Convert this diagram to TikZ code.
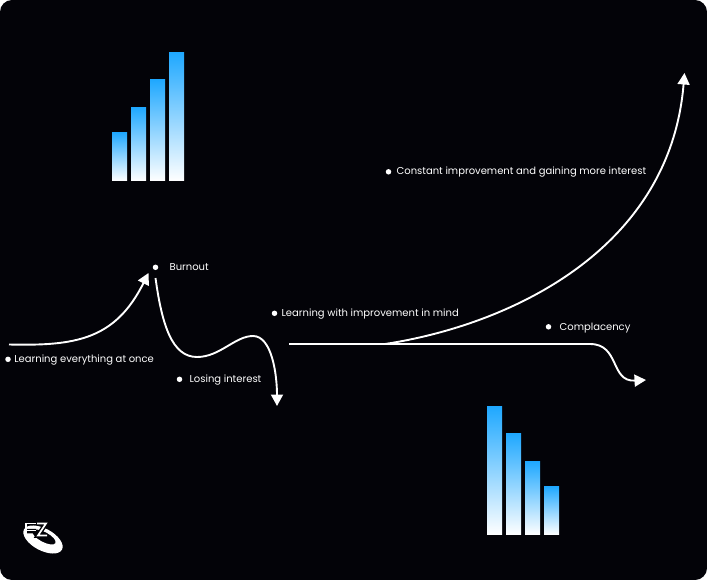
\documentclass[tikz,border=0pt]{standalone}
\usepackage{fontspec}
\usepackage[]{xcolor}
\setmainfont{Poppins}
\usetikzlibrary{positioning,arrows.meta}
\definecolor{panelbg}{HTML}{030308}
\definecolor{barblue}{HTML}{1FA8FF}
\begin{document}
\begin{tikzpicture}[
            x=1pt, y=-1pt,
            dot/.style={circle, fill=white, inner sep=0pt, minimum size=5.5pt},
            label/.style={text=white, inner sep=0pt, text height=7.5pt, text depth=2.5pt, yshift=-0.7pt, font=\fontsize{10}{12}\selectfont},
            bar/.style={top color=barblue, bottom color=white, draw=none},
            arrow/.style={-{Triangle[length=11.5pt,width=12pt]}, white, line width=1.9pt},
            line/.style={white, line width=1.9pt}
        ]
            \useasboundingbox (0,0) rectangle (707,580);
            \fill[white] (0,0) rectangle (707,580);
            \fill[panelbg, rounded corners=12pt] (0,0) rectangle (707,580);

            % rising bars
            \foreach \xa/\ya in {112/132.5, 131/107.5, 150/79.5, 169/52.5}
                \shade[bar] (\xa,\ya) rectangle (\xa+15,181);
            % falling bars
            \foreach \xa/\ya in {487/406.5, 506/433.5, 525/461.5, 544/486.5}
                \shade[bar] (\xa,\ya) rectangle (\xa+15,534.7);

            \node[dot] (D1) at (8,359.3) {};
            \node[dot] (D2) at (155.5,267.3) {};
            \node[dot] (D3) at (179.5,379.3) {};
            \node[dot] (D4) at (274.5,313.3) {};
            \node[dot] (D5) at (388.5,171.8) {};
            \node[dot] (D6) at (548.5,326.8) {};
            \node[label, right=3.2pt of D1] (L1) {Learning everything at once};
            \node[label, right=11pt of D2] (L2) {Burnout};
            \node[label, right=7pt of D3] (L3) {Losing interest};
            \node[label, right=4pt of D4] (L4) {Learning with improvement in mind};
            \node[label, right=5pt of D5] (L5) {Constant improvement and gaining more interest};
            \node[label, right=8pt of D6] (L6) {Complacency};

            \coordinate (A1) at (9,344.5);
            \coordinate (A2) at (148.5,273);
            \coordinate (B1) at (155.5,278);
            \coordinate (B2) at (197,357);
            \coordinate (B3) at (253,336);
            \coordinate (B4) at (277,406);
            \coordinate (C1) at (289,344);
            \coordinate (C2) at (385,344);
            \coordinate (C3) at (684.5,73);
            \coordinate (E1) at (590,344);
            \coordinate (E2) at (646,380);

            \draw[arrow] (A1) .. controls (75,346) and (115,340) .. (A2);
            \draw[arrow] (B1) .. controls (162,325) and (172,357) .. (B2)
                .. controls (220,357) and (235,336) .. (B3)
                .. controls (272,336) and (277,375) .. (B4);
            \draw[line] (C1) -- (C2);
            \draw[arrow] (C2) .. controls (510,325) and (670,250) .. (C3);
            \draw[line] (C2) -- (E1);
            \draw[arrow] (E1) .. controls (620,344) and (610,382) .. (E2);

            % logo
            \fill[white, even odd rule] (43,539.5) ellipse[x radius=21.5, y radius=11, rotate=-28]
                (44,537) ellipse[x radius=13, y radius=5, rotate=-28];
            \draw[panelbg, line width=4.5pt] (27,531) -- (36,531) (37,523.5) -- (46,523.5) -- (38,535.5) -- (47,535.5);
            \draw[white, line width=1.7pt] (36,523.5) -- (26,523.5) -- (26,530.5) -- (36,530.5);
            \draw[white, line width=1.7pt] (37,523.5) -- (46,523.5) -- (38,535.5) -- (47,535.5);
        \end{tikzpicture}
\end{document}
